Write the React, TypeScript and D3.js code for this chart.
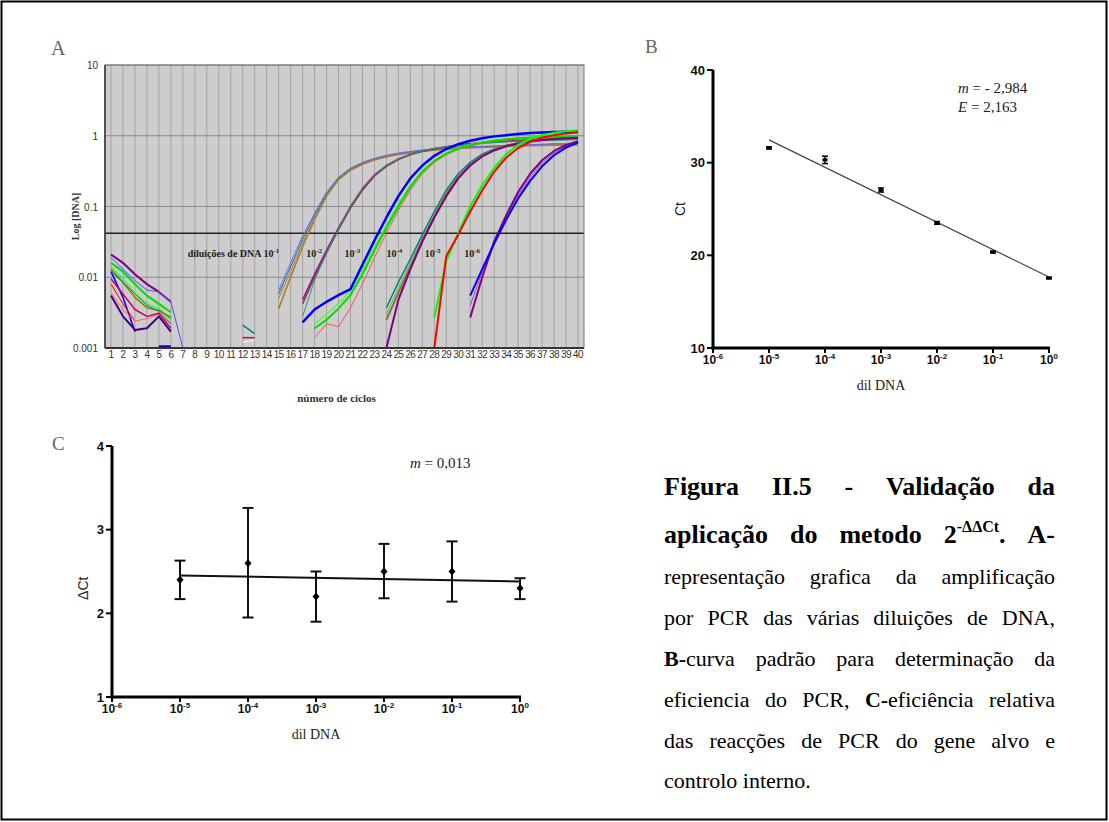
import React from 'react';
import * as d3 from 'd3';

// ---------- Panel A data ----------
const cycleLabels = ['1','2','3','4','5','6','7','8','9','10','11','12','13','14','15','16','17','18','19','20','21','22','23','24','25','26','27','28','29','30','31','32','33','34','35','36','37','38','39','40'];
const yTicksA = [0.001, 0.01, 0.1, 1, 10];
const yTickLabelsA = ['0.001', '0.01', '0.1', '1', '10'];
const thresholdA = 0.042;

type Curve = { color: string; width: number; start: number; values: number[] };

const noiseCurves: Curve[] = [
  { color: '#800080', width: 2, start: 1, values: [0.021, 0.016, 0.011, 0.008, 0.0062, 0.0045] },
  { color: '#00dd00', width: 2, start: 1, values: [0.016, 0.012, 0.008, 0.0055, 0.0042, 0.0032] },
  { color: '#33ff33', width: 1.5, start: 1, values: [0.014, 0.0095, 0.006, 0.0042, 0.0036, 0.0025] },
  { color: '#0000ff', width: 1.5, start: 1, values: [0.012, 0.0052, 0.0017] },
  { color: '#ff0000', width: 1, start: 1, values: [0.008, 0.0042, 0.0024] },
  { color: '#400080', width: 2, start: 1, values: [0.0055, 0.0028, 0.0018, 0.0019, 0.0028, 0.0017] },
  { color: '#ff6666', width: 1, start: 1, values: [0.006, 0.0035, 0.0024, 0.0026, 0.003, 0.0022] },
  { color: '#808000', width: 1.5, start: 1, values: [0.013, 0.0085, 0.0052, 0.0037, 0.0034, 0.0027] },
  { color: '#5050ff', width: 1, start: 1, values: [0.019, 0.013, 0.009, 0.0066, 0.0062, 0.0045, 0.001] },
  { color: '#008080', width: 1, start: 1, values: [0.012, 0.0085, 0.0058, 0.004, 0.0033, 0.0022] },
  { color: '#cc0066', width: 1.5, start: 1, values: [0.0095, 0.0058, 0.0035, 0.0028, 0.0031, 0.0019] },
  { color: '#0000cc', width: 3, start: 5, values: [0.00104, 0.00104] },
  { color: '#008080', width: 1.5, start: 12, values: [0.0021, 0.0016] },
  { color: '#cc0066', width: 1.5, start: 12, values: [0.0014, 0.0014] },
  { color: '#f4f4f4', width: 1, start: 12, values: [0.0012, 0.0013] },
];

const dil1Curves: Curve[] = [
  { color: '#008080', width: 1, start: 15, values: [0.0058, 0.014, 0.034, 0.075, 0.15, 0.25, 0.34, 0.41, 0.47, 0.52, 0.56, 0.59, 0.62, 0.64, 0.66, 0.68, 0.69, 0.70, 0.71, 0.72, 0.73, 0.74, 0.75, 0.76, 0.76, 0.77] },
  { color: '#e06060', width: 1, start: 15, values: [0.005, 0.012, 0.03, 0.068, 0.14, 0.24, 0.32, 0.39, 0.45, 0.50, 0.54, 0.57, 0.60, 0.62, 0.64, 0.66, 0.67, 0.68, 0.69, 0.70, 0.71, 0.72, 0.72, 0.73, 0.73, 0.74] },
  { color: '#a08020', width: 1.5, start: 15, values: [0.0036, 0.010, 0.027, 0.065, 0.14, 0.24, 0.33, 0.40, 0.46, 0.51, 0.55, 0.58, 0.61, 0.63, 0.65, 0.67, 0.68, 0.69, 0.70, 0.71, 0.72, 0.73, 0.74, 0.75, 0.75, 0.76] },
  { color: '#6666ff', width: 1, start: 15, values: [0.0065, 0.016, 0.038, 0.08, 0.16, 0.26, 0.35, 0.42, 0.48, 0.53, 0.57, 0.60, 0.63, 0.65, 0.67, 0.69, 0.70, 0.71, 0.72, 0.73, 0.74, 0.75, 0.76, 0.77, 0.77, 0.78] },
];

const dil2Curves: Curve[] = [
  { color: '#a000a0', width: 1.5, start: 17, values: [0.0048, 0.011, 0.024, 0.05, 0.10, 0.18, 0.28, 0.38, 0.47, 0.55, 0.61, 0.66, 0.70, 0.74, 0.77, 0.80, 0.82, 0.84, 0.86, 0.87, 0.88, 0.89, 0.90, 0.91] },
  { color: '#804040', width: 1.5, start: 17, values: [0.0042, 0.010, 0.022, 0.047, 0.095, 0.17, 0.27, 0.37, 0.46, 0.54, 0.60, 0.65, 0.69, 0.73, 0.76, 0.79, 0.81, 0.83, 0.85, 0.86, 0.87, 0.88, 0.89, 0.90] },
  { color: '#20a080', width: 1, start: 17, values: [0.0028, 0.009, 0.022, 0.048, 0.10, 0.18, 0.28, 0.38, 0.47, 0.55, 0.61, 0.66, 0.70, 0.73, 0.76, 0.78, 0.80, 0.82, 0.83, 0.84, 0.85, 0.86, 0.87, 0.88] },
];

const dil3Curves: Curve[] = [
  { color: '#ff5050', width: 1, start: 18, values: [0.0014, 0.0022, 0.002, 0.0037, 0.008, 0.019, 0.042, 0.088, 0.17, 0.29, 0.42, 0.54, 0.64, 0.72, 0.78, 0.83, 0.87, 0.90, 0.92, 0.94, 0.95, 0.96, 0.97] },
  { color: '#66ee44', width: 1.5, start: 18, values: [0.0022, 0.003, 0.0042, 0.0065, 0.013, 0.027, 0.055, 0.11, 0.20, 0.32, 0.45, 0.57, 0.67, 0.75, 0.81, 0.86, 0.90, 0.93, 0.95, 0.97, 0.98, 0.99, 1.0] },
  { color: '#00dd00', width: 2, start: 18, values: [0.0019, 0.0025, 0.0036, 0.0056, 0.011, 0.024, 0.05, 0.10, 0.19, 0.31, 0.44, 0.56, 0.66, 0.74, 0.80, 0.85, 0.89, 0.92, 0.94, 0.96, 0.97, 0.98, 0.99] },
  { color: '#0000ff', width: 2.5, start: 17, values: [0.0023, 0.0035, 0.0045, 0.0056, 0.0068, 0.015, 0.033, 0.07, 0.14, 0.25, 0.38, 0.52, 0.65, 0.76, 0.85, 0.92, 0.98, 1.02, 1.06, 1.09, 1.11, 1.13, 1.14, 1.15] },
];

const dil4Curves: Curve[] = [
  { color: '#008080', width: 1.5, start: 24, values: [0.0037, 0.0085, 0.018, 0.04, 0.085, 0.17, 0.29, 0.42, 0.55, 0.65, 0.73, 0.79, 0.84, 0.87, 0.90, 0.92, 0.93] },
  { color: '#50c050', width: 1, start: 24, values: [0.003, 0.007, 0.016, 0.036, 0.078, 0.16, 0.27, 0.40, 0.53, 0.64, 0.73, 0.80, 0.85, 0.89, 0.92, 0.94, 0.96] },
  { color: '#8b7030', width: 2, start: 24, values: [0.0025, 0.006, 0.014, 0.033, 0.072, 0.15, 0.26, 0.39, 0.52, 0.63, 0.72, 0.78, 0.83, 0.87, 0.90, 0.92, 0.93] },
  { color: '#800080', width: 2, start: 24, values: [0.001, 0.0048, 0.013, 0.032, 0.07, 0.14, 0.25, 0.38, 0.51, 0.62, 0.71, 0.78, 0.83, 0.87, 0.90, 0.92, 0.94] },
];

const dil5Curves: Curve[] = [
  { color: '#00ff00', width: 2, start: 28, values: [0.0027, 0.017, 0.042, 0.10, 0.20, 0.35, 0.55, 0.74, 0.90, 1.02, 1.10, 1.16, 1.20] },
  { color: '#ff0000', width: 2, start: 28, values: [0.001, 0.02, 0.04, 0.085, 0.17, 0.31, 0.49, 0.67, 0.82, 0.94, 1.02, 1.08, 1.11] },
];

const dil6Curves: Curve[] = [
  { color: '#a040c0', width: 1, start: 31, values: [0.004, 0.012, 0.033, 0.07, 0.145, 0.26, 0.41, 0.57, 0.71, 0.82] },
  { color: '#800080', width: 2, start: 31, values: [0.0027, 0.01, 0.032, 0.075, 0.16, 0.29, 0.45, 0.61, 0.74, 0.84] },
  { color: '#0000ff', width: 2, start: 31, values: [0.0055, 0.013, 0.03, 0.065, 0.13, 0.23, 0.37, 0.53, 0.68, 0.80] },
];

const dilLabelTexts = ['diluições de DNA 10', '10', '10', '10', '10', '10'];
const dilLabelExps = ['-1', '-2', '-3', '-4', '-5', '-6'];
const dilLabelCycles = [7.4, 17.3, 20.5, 24.0, 27.2, 30.5];
const dilLabelValue = 0.0195;

// ---------- Panel B data ----------
const dilB = [1e-5, 1e-4, 1e-3, 1e-2, 1e-1, 1];
const ctB = [31.6, 30.3, 27.05, 23.5, 20.35, 17.55];
const ctErrB = [0.12, 0.4, 0.22, 0.15, 0.1, 0.08];
const yTicksB = [10, 20, 30, 40];
const xTicksLog = [1e-6, 1e-5, 1e-4, 1e-3, 1e-2, 1e-1, 1];
const xTickExps = ['-6', '-5', '-4', '-3', '-2', '-1', '0'];

// ---------- Panel C data ----------
const dilC = [1e-5, 1e-4, 1e-3, 1e-2, 1e-1, 1];
const dCtC = [2.4, 2.6, 2.2, 2.5, 2.5, 2.3];
const dCtLowC = [2.17, 1.95, 1.9, 2.18, 2.14, 2.17];
const dCtHighC = [2.63, 3.26, 2.5, 2.83, 2.86, 2.42];
const yTicksC = [1, 2, 3, 4];

// ---------- Caption ----------
type Seg = { t: string; b?: boolean; sup?: boolean };
const captionLines: { size: number; words: Seg[][] }[] = [
  { size: 26, words: [[{ t: 'Figura', b: true }], [{ t: 'II.5', b: true }], [{ t: '-', b: true }], [{ t: 'Validação', b: true }], [{ t: 'da', b: true }]] },
  { size: 26, words: [[{ t: 'aplicação', b: true }], [{ t: 'do', b: true }], [{ t: 'metodo', b: true }], [{ t: '2', b: true }, { t: '-ΔΔCt', b: true, sup: true }, { t: '.', b: true }], [{ t: 'A-', b: true }]] },
  { size: 22, words: ['representação', 'grafica', 'da', 'amplificação'].map(w => [{ t: w }]) },
  { size: 22, words: ['por', 'PCR', 'das', 'várias', 'diluições', 'de', 'DNA,'].map(w => [{ t: w }]) },
  { size: 22, words: [[{ t: 'B-', b: true }, { t: 'curva' }], [{ t: 'padrão' }], [{ t: 'para' }], [{ t: 'determinação' }], [{ t: 'da' }]] },
  { size: 22, words: [[{ t: 'eficiencia' }], [{ t: 'do' }], [{ t: 'PCR,' }], [{ t: 'C-', b: true }, { t: 'eficiência' }], [{ t: 'relativa' }]] },
  { size: 22, words: ['das', 'reacções', 'de', 'PCR', 'do', 'gene', 'alvo', 'e'].map(w => [{ t: w }]) },
  { size: 22, words: ['controlo', 'interno.'].map(w => [{ t: w }]) },
];
const captionBaselines = [495, 543, 584, 625, 666, 707, 748, 788];

const SERIF = '"Liberation Serif", "Times New Roman", serif';
const SANS = '"Liberation Sans", Arial, sans-serif';

let ctxCache: CanvasRenderingContext2D | null = null;
function measure(text: string, font: string): number {
  if (!ctxCache) ctxCache = document.createElement('canvas').getContext('2d');
  if (!ctxCache) return text.length * 10;
  ctxCache.font = font;
  return ctxCache.measureText(text).width;
}

function segSize(s: Seg, size: number) {
  return s.sup ? Math.round(size * 0.6) : size;
}
function segFont(s: Seg, size: number) {
  return `${s.b ? 'bold ' : ''}${segSize(s, size)}px "Liberation Serif"`;
}

function regression(xs: number[], ys: number[]) {
  const lx = xs.map(v => Math.log10(v));
  const mx = d3.mean(lx) as number;
  const my = d3.mean(ys) as number;
  let sxy = 0, sxx = 0;
  lx.forEach((x, i) => { sxy += (x - mx) * (ys[i] - my); sxx += (x - mx) * (x - mx); });
  const slope = sxy / sxx;
  return (x: number) => my + slope * (Math.log10(x) - mx);
}

function LogXAxis({ scale, y }: { scale: d3.ScaleLogarithmic<number, number>; y: number }) {
  return (
    <g>
      {xTicksLog.map((t, i) => (
        <g key={i}>
          <line x1={scale(t)} x2={scale(t)} y1={y} y2={y + 5} stroke="#000" strokeWidth={2} />
          <text x={scale(t)} y={y + 16} textAnchor="middle" fontFamily={SANS} fontWeight="bold" fontSize={12} fill="#111">
            10<tspan dy={-5} fontSize={8}>{xTickExps[i]}</tspan>
          </text>
        </g>
      ))}
    </g>
  );
}

export default function App() {
  // ----- Panel A scales -----
  const aLeft = 105, aRight = 584, aTop = 65, aBottom = 348;
  const xA = d3.scaleBand<string>().domain(cycleLabels).range([aLeft, aRight]);
  const xc = (c: number) => (xA(String(Math.floor(c))) as number) + xA.bandwidth() / 2 + (c - Math.floor(c)) * xA.bandwidth();
  const yA = d3.scaleLog().domain([0.001, 10]).range([aBottom, aTop]);
  const curvePath = (cv: Curve) =>
    d3.line<number>()
      .x((_, i) => xc(cv.start + i))
      .y(v => yA(v))(cv.values) || '';
  const allCurves = [...noiseCurves, ...dil1Curves, ...dil2Curves, ...dil3Curves, ...dil4Curves, ...dil5Curves, ...dil6Curves];

  // ----- Panel B scales -----
  const xB = d3.scaleLog().domain([1e-6, 1]).range([713, 1049]);
  const yB = d3.scaleLinear().domain([10, 40]).range([348, 70]);
  const fitB = regression(dilB, ctB);

  // ----- Panel C scales -----
  const xC = d3.scaleLog().domain([1e-6, 1]).range([112, 520]);
  const yC = d3.scaleLinear().domain([1, 4]).range([697, 446]);
  const fitC = regression(dilC, dCtC);

  // ----- Caption layout (justified) -----
  const capLeft = 664, capRight = 1055;
  const capEls: React.ReactNode[] = [];
  captionLines.forEach((line, li) => {
    const widths = line.words.map(w => w.reduce((s, seg) => s + measure(seg.t, segFont(seg, line.size)), 0));
    const total = d3.sum(widths);
    const last = li === captionLines.length - 1;
    const gap = last ? measure(' ', `${line.size}px "Liberation Serif"`) : (capRight - capLeft - total) / (line.words.length - 1);
    let x = capLeft;
    line.words.forEach((w, wi) => {
      let sx = x;
      w.forEach((seg, si) => {
        capEls.push(
          <text key={`${li}-${wi}-${si}`} x={sx} y={captionBaselines[li] - (seg.sup ? line.size * 0.42 : 0)}
            fontFamily={SERIF} fontWeight={seg.b ? 'bold' : 'normal'} fontSize={segSize(seg, line.size)} fill="#000">
            {seg.t}
          </text>
        );
        sx += measure(seg.t, segFont(seg, line.size));
      });
      x += widths[wi] + gap;
    });
  });

  return (
    <svg width={1109} height={822} style={{ position: 'absolute', left: 0, top: 0, background: '#fff' }}>
      <rect x={0} y={0} width={1109} height={822} fill="#fff" />
      <rect x={1.5} y={1.5} width={1105} height={818} fill="none" stroke="#000" strokeWidth={2} />

      {/* ================= Panel A ================= */}
      <text x={51} y={55} fontFamily={SERIF} fontSize={20} fill="#666">A</text>
      <defs>
        <clipPath id="clipA"><rect x={aLeft} y={aTop} width={aRight - aLeft} height={aBottom - aTop} /></clipPath>
      </defs>
      <rect x={aLeft} y={aTop} width={aRight - aLeft} height={aBottom - aTop} fill="#cdcdcd" />
      {cycleLabels.map(c => (
        <line key={c} x1={xc(+c)} x2={xc(+c)} y1={aTop} y2={aBottom} stroke="#a4a4a4" strokeWidth={1} />
      ))}
      {yTicksA.map(t => (
        <line key={t} x1={aLeft} x2={aRight} y1={yA(t)} y2={yA(t)} stroke="#8a8a8a" strokeWidth={1.2} />
      ))}
      <line x1={aLeft} x2={aRight} y1={yA(thresholdA)} y2={yA(thresholdA)} stroke="#222" strokeWidth={1.5} />
      <g clipPath="url(#clipA)">
        {allCurves.map((cv, i) => (
          <path key={i} d={curvePath(cv)} fill="none" stroke={cv.color} strokeWidth={cv.width} strokeLinejoin="round" />
        ))}
      </g>
      <rect x={aLeft} y={aTop} width={aRight - aLeft} height={aBottom - aTop} fill="none" stroke="#777" strokeWidth={1} />
      <line x1={aLeft} x2={aLeft} y1={aTop} y2={aBottom} stroke="#333" strokeWidth={1.5} />
      <line x1={aLeft} x2={aRight} y1={aBottom} y2={aBottom} stroke="#333" strokeWidth={2} />
      {yTicksA.map((t, i) => (
        <text key={t} x={aLeft - 7} y={yA(t) + 4} textAnchor="end" fontFamily={SANS} fontSize={10} fill="#333">{yTickLabelsA[i]}</text>
      ))}
      {cycleLabels.map(c => (
        <text key={c} x={xc(+c)} y={aBottom + 10} textAnchor="middle" fontFamily={SANS} fontSize={10} fill="#333" letterSpacing={-0.6}>{c}</text>
      ))}
      <text transform={`translate(79, ${(aTop + aBottom) / 2 + 10}) rotate(-90)`} textAnchor="middle" fontFamily={SERIF} fontWeight="bold" fontSize={10} fill="#333">Log [DNA]</text>
      <text x={(aLeft + aRight) / 2 - 8} y={402} textAnchor="middle" fontFamily={SERIF} fontWeight="bold" fontSize={11} fill="#333">número de ciclos</text>
      {dilLabelTexts.map((t, i) => (
        <text key={i} x={xc(dilLabelCycles[i])} y={yA(dilLabelValue)} fontFamily={SERIF} fontWeight="bold" fontSize={10} fill="#222">
          {t}<tspan dy={-4} fontSize={7}>{dilLabelExps[i]}</tspan>
        </text>
      ))}

      {/* ================= Panel B ================= */}
      <text x={645} y={53} fontFamily={SERIF} fontSize={19} fill="#666">B</text>
      <line x1={713} x2={713} y1={yB(40)} y2={yB(10) + 1.5} stroke="#000" strokeWidth={3} />
      <line x1={711.5} x2={xB(1) + 1} y1={yB(10)} y2={yB(10)} stroke="#000" strokeWidth={3} />
      {yTicksB.map(t => (
        <g key={t}>
          <line x1={707} x2={713} y1={yB(t)} y2={yB(t)} stroke="#000" strokeWidth={2} />
          <text x={705} y={yB(t) + 4.5} textAnchor="end" fontFamily={SANS} fontWeight="bold" fontSize={13} fill="#111">{t}</text>
        </g>
      ))}
      <LogXAxis scale={xB} y={yB(10)} />
      <text transform={`translate(685, ${yB(25)}) rotate(-90)`} textAnchor="middle" fontFamily={SANS} fontSize={14} fill="#222">Ct</text>
      <text x={(713 + 1049) / 2} y={390} textAnchor="middle" fontFamily={SERIF} fontSize={14} fill="#222">dil DNA</text>
      <line x1={xB(dilB[0])} x2={xB(dilB[dilB.length - 1])} y1={yB(fitB(dilB[0]))} y2={yB(fitB(dilB[dilB.length - 1]))} stroke="#444" strokeWidth={1.2} />
      {dilB.map((d, i) => (
        <g key={i}>
          <line x1={xB(d)} x2={xB(d)} y1={yB(ctB[i] - ctErrB[i])} y2={yB(ctB[i] + ctErrB[i])} stroke="#000" strokeWidth={1.5} />
          <line x1={xB(d) - 3} x2={xB(d) + 3} y1={yB(ctB[i] + ctErrB[i])} y2={yB(ctB[i] + ctErrB[i])} stroke="#000" strokeWidth={1.5} />
          <line x1={xB(d) - 3} x2={xB(d) + 3} y1={yB(ctB[i] - ctErrB[i])} y2={yB(ctB[i] - ctErrB[i])} stroke="#000" strokeWidth={1.5} />
          <rect x={xB(d) - 2.5} y={yB(ctB[i]) - 1.5} width={5} height={3} fill="#000" />
        </g>
      ))}
      <text x={958} y={93} fontFamily={SERIF} fontSize={15} fill="#222"><tspan fontStyle="italic">m</tspan> = - 2,984</text>
      <text x={958} y={112} fontFamily={SERIF} fontSize={15} fill="#222"><tspan fontStyle="italic">E</tspan> =  2,163</text>

      {/* ================= Panel C ================= */}
      <text x={52} y={450} fontFamily={SERIF} fontSize={19} fill="#666">C</text>
      <line x1={xC(1e-6)} x2={xC(1e-6)} y1={yC(4)} y2={yC(1) + 1.5} stroke="#000" strokeWidth={3} />
      <line x1={xC(1e-6) - 1.5} x2={xC(1) + 1} y1={yC(1)} y2={yC(1)} stroke="#000" strokeWidth={3} />
      {yTicksC.map(t => (
        <g key={t}>
          <line x1={xC(1e-6) - 6} x2={xC(1e-6)} y1={yC(t)} y2={yC(t)} stroke="#000" strokeWidth={2} />
          <text x={xC(1e-6) - 8} y={yC(t) + 4.5} textAnchor="end" fontFamily={SANS} fontWeight="bold" fontSize={13} fill="#111">{t}</text>
        </g>
      ))}
      <LogXAxis scale={xC} y={yC(1)} />
      <text transform={`translate(88, ${yC(2.3)}) rotate(-90)`} textAnchor="middle" fontFamily={SANS} fontSize={14} fill="#222">ΔCt</text>
      <text x={(112 + 520) / 2} y={739} textAnchor="middle" fontFamily={SERIF} fontSize={14} fill="#222">dil DNA</text>
      <line x1={xC(dilC[0])} x2={xC(dilC[dilC.length - 1])} y1={yC(fitC(dilC[0]))} y2={yC(fitC(dilC[dilC.length - 1]))} stroke="#111" strokeWidth={2} />
      {dilC.map((d, i) => (
        <g key={i}>
          <line x1={xC(d)} x2={xC(d)} y1={yC(dCtLowC[i])} y2={yC(dCtHighC[i])} stroke="#111" strokeWidth={2} />
          <line x1={xC(d) - 5.5} x2={xC(d) + 5.5} y1={yC(dCtHighC[i])} y2={yC(dCtHighC[i])} stroke="#111" strokeWidth={2} />
          <line x1={xC(d) - 5.5} x2={xC(d) + 5.5} y1={yC(dCtLowC[i])} y2={yC(dCtLowC[i])} stroke="#111" strokeWidth={2} />
          <path d={`M${xC(d)},${yC(dCtC[i]) - 4}L${xC(d) + 3.5},${yC(dCtC[i])}L${xC(d)},${yC(dCtC[i]) + 4}L${xC(d) - 3.5},${yC(dCtC[i])}Z`} fill="#000" />
        </g>
      ))}
      <text x={410} y={468} fontFamily={SERIF} fontSize={15} fill="#222"><tspan fontStyle="italic">m</tspan> = 0,013</text>

      {/* ================= Caption ================= */}
      {capEls}
    </svg>
  );
}
